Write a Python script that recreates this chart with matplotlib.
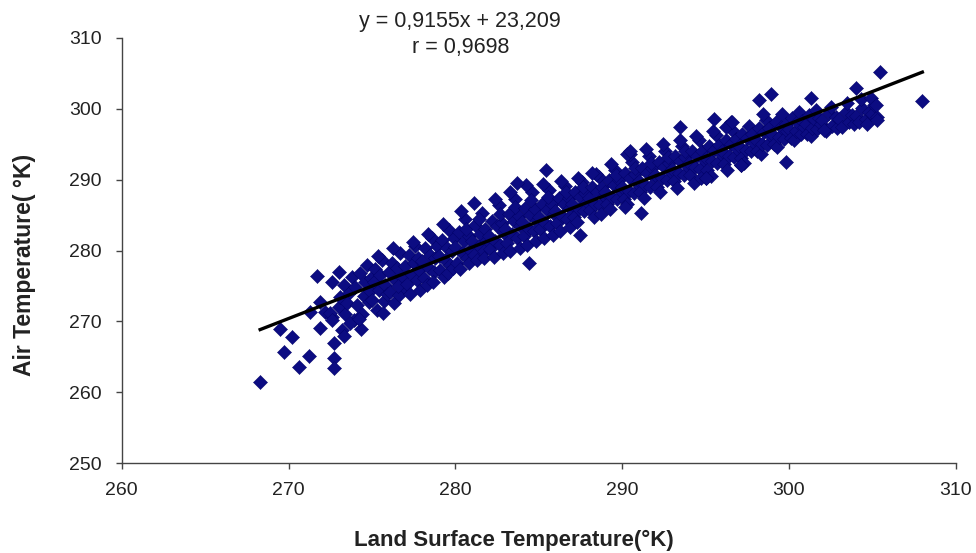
import numpy as np
import matplotlib
matplotlib.use('Agg')
import matplotlib.pyplot as plt

plt.rcParams['font.family'] = ['Liberation Sans', 'DejaVu Sans']

# regression printed on the chart
slope = 0.9155
intercept = 23.209
r_value = 0.9698

# sparse low tail
lst_tail = [268.3, 269.5, 269.75, 270.2, 270.6, 271.2, 271.3, 271.7, 271.9, 272.2,
            272.6, 272.75, 272.75, 272.75, 273.0, 272.6, 273.2, 273.3, 274.35, 273.0,
            271.9, 272.5, 272.6]
air_tail = [261.5, 268.9, 265.7, 267.8, 263.5, 265.1, 271.3, 276.4, 269.1, 271.3,
            275.6, 266.9, 264.8, 263.4, 277.0, 270.6, 268.8, 268.0, 268.9, 272.0,
            272.8, 271.2, 270.2]

# main band, one line per degree of land surface temperature
lst_band = [
    273.1, 273.3, 273.4, 273.6, 273.8, 273.9, 273.5, 273.7,
    274.0, 274.1, 274.3, 274.4, 274.5, 274.6, 274.7, 274.8, 274.9, 274.2, 274.95,
    275.0, 275.1, 275.2, 275.3, 275.4, 275.5, 275.6, 275.7, 275.8, 275.9, 275.35, 275.65,
    276.0, 276.1, 276.2, 276.3, 276.4, 276.5, 276.6, 276.7, 276.8, 276.9, 276.25, 276.55,
    277.0, 277.1, 277.2, 277.3, 277.4, 277.5, 277.6, 277.7, 277.8, 277.9, 277.45, 277.75,
    278.0, 278.1, 278.2, 278.3, 278.4, 278.5, 278.6, 278.7, 278.8, 278.9, 278.35, 278.65,
    279.0, 279.1, 279.2, 279.3, 279.4, 279.5, 279.6, 279.7, 279.8, 279.9, 279.25, 279.55, 279.85,
    280.0, 280.1, 280.2, 280.3, 280.4, 280.5, 280.6, 280.7, 280.8, 280.9, 280.35, 280.65, 280.85,
    281.0, 281.1, 281.2, 281.3, 281.4, 281.5, 281.6, 281.7, 281.8, 281.9, 281.15, 281.45, 281.75,
    282.0, 282.1, 282.2, 282.3, 282.4, 282.5, 282.6, 282.7, 282.8, 282.9, 282.35, 282.65, 282.85,
    283.0, 283.1, 283.2, 283.3, 283.4, 283.5, 283.6, 283.7, 283.8, 283.9, 283.25, 283.55, 283.85,
    284.0, 284.1, 284.2, 284.3, 284.4, 284.5, 284.6, 284.7, 284.8, 284.9, 284.25, 284.55, 284.85,
    285.0, 285.1, 285.2, 285.3, 285.4, 285.5, 285.6, 285.7, 285.8, 285.9, 285.25, 285.55, 285.85,
    286.0, 286.1, 286.2, 286.3, 286.4, 286.5, 286.6, 286.7, 286.8, 286.9, 286.35, 286.65, 286.85,
    287.0, 287.1, 287.2, 287.3, 287.4, 287.5, 287.6, 287.7, 287.8, 287.9, 287.35, 287.65,
    288.0, 288.1, 288.2, 288.3, 288.4, 288.5, 288.6, 288.7, 288.8, 288.9, 288.45, 288.75,
    289.0, 289.1, 289.2, 289.3, 289.4, 289.5, 289.6, 289.7, 289.8, 289.9, 289.35, 289.65,
    290.0, 290.1, 290.2, 290.3, 290.4, 290.5, 290.6, 290.7, 290.8, 290.9, 290.45, 290.75, 290.15,
    291.0, 291.1, 291.2, 291.3, 291.4, 291.5, 291.6, 291.7, 291.8, 291.9, 291.45, 291.75,
    292.0, 292.1, 292.2, 292.3, 292.4, 292.5, 292.6, 292.7, 292.8, 292.9, 292.45, 292.75,
    293.0, 293.1, 293.2, 293.3, 293.4, 293.5, 293.6, 293.7, 293.8, 293.9, 293.45, 293.75,
    294.0, 294.1, 294.2, 294.3, 294.4, 294.5, 294.6, 294.7, 294.8, 294.9, 294.45, 294.75,
    295.0, 295.1, 295.2, 295.3, 295.4, 295.5, 295.6, 295.7, 295.8, 295.9, 295.45, 295.05,
    296.0, 296.1, 296.2, 296.3, 296.4, 296.5, 296.6, 296.7, 296.8, 296.9, 296.55, 296.25,
    297.0, 297.1, 297.2, 297.3, 297.4, 297.5, 297.6, 297.7, 297.8, 297.9, 297.15,
    298.0, 298.1, 298.2, 298.3, 298.4, 298.5, 298.6, 298.7, 298.8, 298.9, 298.45,
    299.0, 299.1, 299.2, 299.3, 299.4, 299.5, 299.6, 299.7, 299.8, 299.9,
    300.0, 300.1, 300.2, 300.3, 300.4, 300.5, 300.6, 300.7, 300.8, 300.9,
    301.0, 301.1, 301.2, 301.3, 301.4, 301.5, 301.6, 301.7, 301.8, 301.9,
    302.0, 302.2, 302.4, 302.6, 302.8, 302.5, 302.9,
    303.0, 303.2, 303.4, 303.6, 303.8, 303.5, 303.9,
    304.0, 304.2, 304.4, 304.6, 304.8, 304.3, 304.7,
    305.0, 305.1, 305.3,
]
air_band = [
    273.5, 275.2, 271.0, 274.0, 276.3, 270.2, 272.6, 269.8,
    274.9, 272.3, 276.8, 271.1, 273.6, 275.5, 277.9, 272.8, 274.3, 270.3, 276.1,
    273.0, 275.6, 277.4, 271.6, 274.4, 276.5, 278.6, 272.9, 275.1, 273.9, 279.2, 271.2,
    276.9, 274.1, 278.2, 272.6, 275.8, 277.6, 273.7, 279.6, 276.2, 274.8, 280.3, 275.0,
    277.8, 275.3, 279.4, 273.9, 276.6, 278.3, 280.6, 275.9, 277.2, 274.4, 281.2, 279.0,
    278.5, 276.1, 280.3, 275.2, 277.6, 279.4, 281.8, 276.9, 278.9, 280.7, 282.4, 275.5,
    279.2, 277.2, 281.5, 276.2, 278.6, 280.4, 282.9, 278.0, 279.9, 281.8, 283.7, 276.8, 277.6,
    280.5, 278.2, 282.6, 277.4, 279.6, 281.3, 284.4, 279.0, 282.0, 280.1, 285.6, 283.1, 278.3,
    281.4, 279.3, 283.6, 278.6, 280.6, 282.4, 285.3, 280.0, 283.0, 281.5, 286.7, 284.5, 278.9,
    282.1, 280.2, 284.2, 279.1, 281.3, 283.4, 286.4, 280.8, 283.9, 282.5, 287.3, 285.2, 279.6,
    283.0, 281.0, 285.1, 280.0, 282.3, 284.2, 287.3, 281.8, 284.9, 283.4, 288.3, 286.2, 280.4,
    284.0, 282.0, 286.0, 280.8, 283.1, 285.0, 288.2, 282.7, 285.8, 284.3, 289.2, 287.1, 281.3,
    284.8, 283.0, 286.6, 281.7, 283.9, 285.7, 288.5, 283.5, 286.5, 285.1, 289.4, 287.6, 282.2,
    285.6, 283.9, 287.4, 282.8, 284.9, 286.6, 289.1, 284.5, 287.4, 286.0, 289.8, 288.2, 283.3,
    286.5, 284.8, 288.2, 284.0, 285.8, 287.5, 289.7, 285.6, 288.1, 286.9, 290.3, 288.9,
    287.4, 285.7, 289.0, 284.8, 286.6, 288.3, 290.4, 286.4, 288.9, 287.7, 290.8, 285.2,
    288.2, 286.5, 290.0, 285.8, 287.5, 289.2, 291.4, 287.3, 289.9, 288.6, 292.2, 290.6,
    289.0, 287.3, 290.9, 286.5, 288.4, 290.2, 292.5, 288.1, 290.8, 289.5, 293.6, 291.7, 286.2,
    289.8, 288.2, 291.7, 287.4, 289.3, 291.0, 293.3, 289.0, 291.6, 290.4, 294.3, 292.4,
    290.7, 289.0, 292.5, 288.2, 290.2, 291.8, 294.0, 289.9, 292.4, 291.2, 295.0, 293.2,
    291.5, 289.8, 293.3, 288.8, 291.0, 292.6, 294.8, 290.7, 293.2, 292.0, 295.6, 294.0,
    292.3, 290.6, 294.1, 289.6, 291.8, 293.4, 295.6, 291.5, 294.0, 292.8, 296.2, 290.2,
    293.1, 291.4, 294.8, 290.5, 292.6, 294.2, 296.3, 292.3, 294.9, 293.6, 296.9, 290.2,
    294.0, 292.2, 295.6, 291.4, 293.4, 295.1, 297.0, 293.2, 295.7, 294.4, 298.1, 297.4,
    294.8, 293.0, 296.4, 292.4, 294.2, 295.9, 297.6, 294.0, 296.5, 295.2, 292.1,
    295.6, 294.1, 297.3, 293.6, 295.1, 296.7, 298.4, 294.9, 297.3, 296.1, 299.3,
    296.4, 295.0, 298.1, 294.6, 296.0, 297.5, 299.2, 295.8, 297.9, 296.8,
    297.2, 295.9, 298.7, 295.6, 296.8, 298.1, 299.6, 296.5, 298.3, 297.4,
    297.8, 296.4, 299.1, 296.1, 297.3, 298.6, 299.8, 297.1, 298.7, 297.9,
    298.4, 296.9, 299.4, 297.6, 298.9, 300.3, 297.3,
    298.6, 297.5, 299.6, 298.2, 299.1, 300.8, 297.8,
    299.0, 298.1, 300.1, 298.6, 299.5, 301.4, 297.9,
    299.2, 300.6, 298.8,
]

# scattered points away from the band
lst_out = [285.45, 288.2, 283.7, 287.5, 284.4, 291.15, 290.3, 293.5, 295.5, 296.6,
           298.2, 298.9, 297.1, 305.45, 308.0, 305.3, 304.0, 301.3, 299.8, 302.1,
           304.9, 305.2, 295.0, 290.5]
air_out = [291.35, 291.0, 289.5, 282.2, 278.2, 285.3, 293.6, 297.5, 298.5, 298.2,
           301.2, 302.1, 292.1, 305.2, 301.1, 298.4, 302.9, 301.5, 292.5, 297.0,
           301.5, 300.5, 290.2, 294.0]

lst = np.array(lst_tail + lst_band + lst_out)
air = np.array(air_tail + air_band + air_out)

fig = plt.figure(figsize=(9.76, 5.53), dpi=100)
ax = fig.add_axes([0.1247, 0.1627, 0.8545, 0.7686])

ax.scatter(lst, air, marker='D', s=52, color='#0c0c82', edgecolors='#000066',
           linewidths=0.3, zorder=2)

# trend line over the data range
x_fit = np.array([lst.min(), lst.max()])
ax.plot(x_fit, slope * x_fit + intercept, color='black', linewidth=2.4, zorder=3)

ax.set_xlim(260, 310)
ax.set_ylim(250, 310)
ax.set_xticks(range(260, 311, 10))
ax.set_yticks(range(250, 311, 10))

for side in ['top', 'right']:
    ax.spines[side].set_visible(False)
for side in ['left', 'bottom']:
    ax.spines[side].set_color('#444444')
    ax.spines[side].set_linewidth(1.0)
ax.tick_params(axis='both', direction='out', length=4.5, width=1, color='#444444',
               labelsize=14, labelcolor='#222222')
ax.tick_params(axis='y', pad=10)
ax.tick_params(axis='x', pad=9)

fig.text(514 / 976, 1 - 540 / 553, 'Land Surface Temperature(°K)', ha='center', va='center',
         fontsize=16, fontweight='bold', color='#222222')
fig.text(25 / 976, 1 - 265 / 553, 'Air Temperature( °K)', ha='center', va='center',
         rotation=90, fontsize=16.5, fontweight='bold', color='#222222')

fig.text(460 / 976, 1 - 21 / 553, 'y = 0,9155x + 23,209', ha='center', va='center',
         fontsize=15.5, color='#222222')
fig.text(461 / 976, 1 - 48 / 553, 'r = 0,9698', ha='center', va='center',
         fontsize=15.5, color='#222222')

fig.savefig('out.png', dpi=100)
